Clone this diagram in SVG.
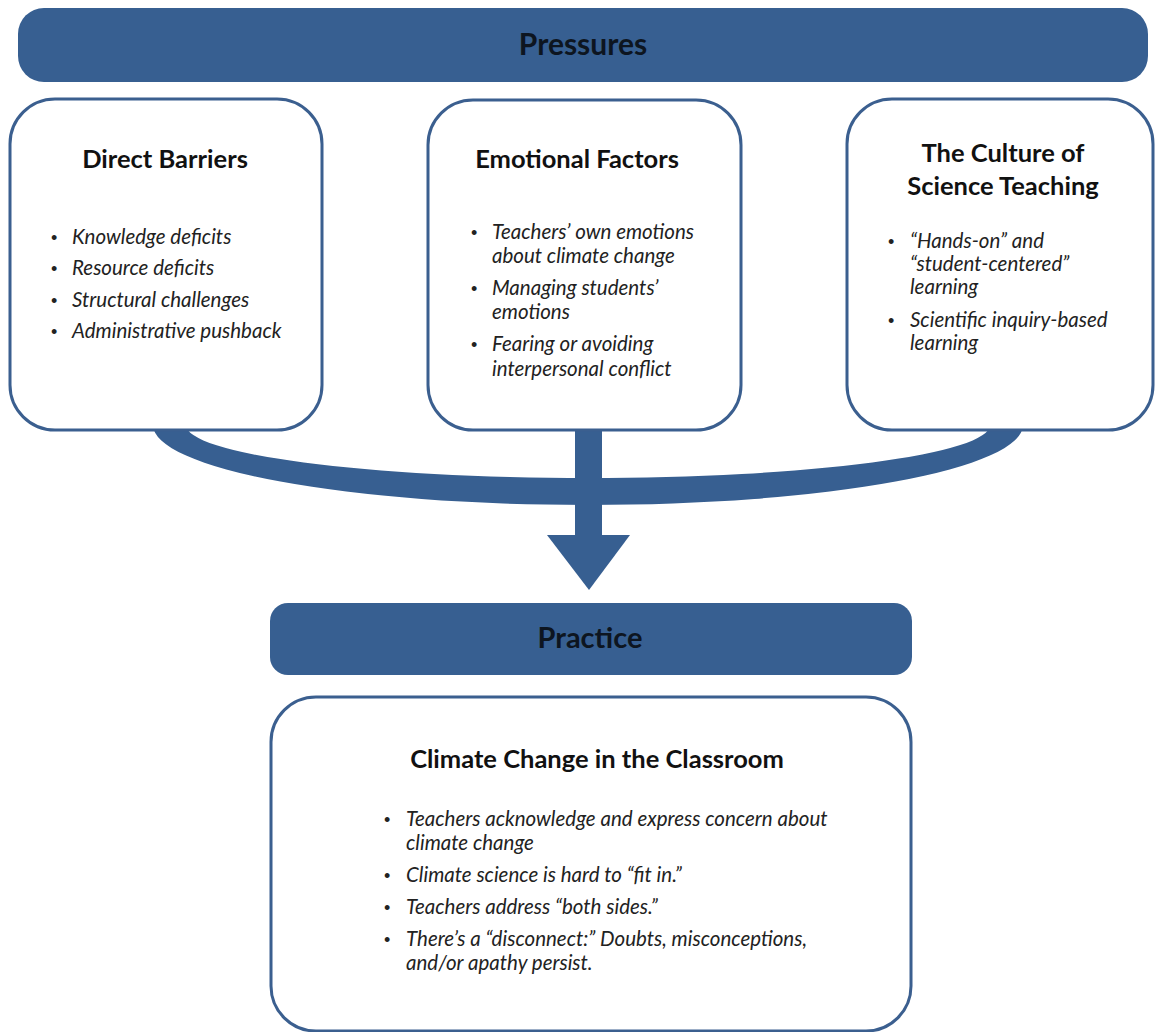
<svg xmlns="http://www.w3.org/2000/svg" width="1156" height="1032" viewBox="0 0 1156 1032">
<style>
.bar{fill:#375f91;}
.box{fill:#ffffff;stroke:#3b5f8f;stroke-width:3;}
.conn{fill:#375f91;}
.hdr{font-family:Lato,"Liberation Sans",sans-serif;font-weight:bold;font-size:29px;fill:#0d1520;text-anchor:middle;}
.ttl{font-family:Lato,"Liberation Sans",sans-serif;font-weight:bold;font-size:25.5px;fill:#111;text-anchor:middle;}
.itm{font-family:Lato,"Liberation Sans",sans-serif;font-style:italic;font-size:20.5px;fill:#222;}
.bul{font-family:"Liberation Sans",sans-serif;font-size:18px;fill:#222;}
</style>
<rect width="1156" height="1032" fill="#ffffff"/>
<g id="connectors">
<path class="conn" d="M153,425 A435,80 0 0 0 1023,425 L990,425 A402,53 0 0 1 186,425 Z"/>
<rect class="conn" x="575" y="425" width="27" height="112"/>
<polygon class="conn" points="547,535 630,535 589,590"/>
</g>
<g id="pressures">
<rect class="bar" x="18" y="8" width="1130" height="74" rx="26"/>
<text class="hdr" x="583" y="55" style="font-size:30px">Pressures</text>
</g>
<g id="direct-barriers">
<rect class="box" x="10" y="99" width="312" height="331" rx="45"/>
<text class="ttl" x="165" y="168">Direct Barriers</text>
<text class="bul" x="51" y="244">•</text><text class="itm" x="72" y="244">Knowledge deficits</text>
<text class="bul" x="51" y="275">•</text><text class="itm" x="72" y="275">Resource deficits</text>
<text class="bul" x="51" y="307">•</text><text class="itm" x="72" y="307">Structural challenges</text>
<text class="bul" x="51" y="338">•</text><text class="itm" x="72" y="338">Administrative pushback</text>
</g>
<g id="emotional-factors">
<rect class="box" x="428" y="100" width="313" height="330" rx="45"/>
<text class="ttl" x="577" y="168">Emotional  Factors</text>
<text class="bul" x="471" y="239">•</text><text class="itm" x="492" y="239">Teachers’ own emotions</text>
<text class="itm" x="492" y="263">about climate change</text>
<text class="bul" x="471" y="295">•</text><text class="itm" x="492" y="295">Managing students’</text>
<text class="itm" x="492" y="319">emotions</text>
<text class="bul" x="471" y="351">•</text><text class="itm" x="492" y="351">Fearing or avoiding</text>
<text class="itm" x="492" y="376">interpersonal conflict</text>
</g>
<g id="culture-of-science-teaching">
<rect class="box" x="847" y="99" width="306" height="331" rx="45"/>
<text class="ttl" x="1003" y="162">The Culture of</text>
<text class="ttl" x="1003" y="195">Science Teaching</text>
<text class="bul" x="888" y="248">•</text><text class="itm" x="910" y="248">“Hands-on” and</text>
<text class="itm" x="910" y="271">“student-centered”</text>
<text class="itm" x="910" y="294">learning</text>
<text class="bul" x="888" y="327">•</text><text class="itm" x="910" y="327">Scientific inquiry-based</text>
<text class="itm" x="910" y="350">learning</text>
</g>
<g id="practice">
<rect class="bar" x="270" y="603" width="642" height="72" rx="18"/>
<text class="hdr" x="590" y="648">Practice</text>
</g>
<g id="climate-change-classroom">
<rect class="box" x="271" y="697" width="640" height="334" rx="45"/>
<text class="ttl" x="597" y="768">Climate Change in the Classroom</text>
<text class="bul" x="384" y="826">•</text><text class="itm" x="406" y="826">Teachers acknowledge and express concern about</text>
<text class="itm" x="406" y="850">climate change</text>
<text class="bul" x="384" y="882">•</text><text class="itm" x="406" y="882">Climate science is hard to “fit in.”</text>
<text class="bul" x="384" y="914">•</text><text class="itm" x="406" y="914">Teachers address “both sides.”</text>
<text class="bul" x="384" y="946">•</text><text class="itm" x="406" y="946">There’s a “disconnect:” Doubts, misconceptions,</text>
<text class="itm" x="406" y="970">and/or apathy persist.</text>
</g>
</svg>
